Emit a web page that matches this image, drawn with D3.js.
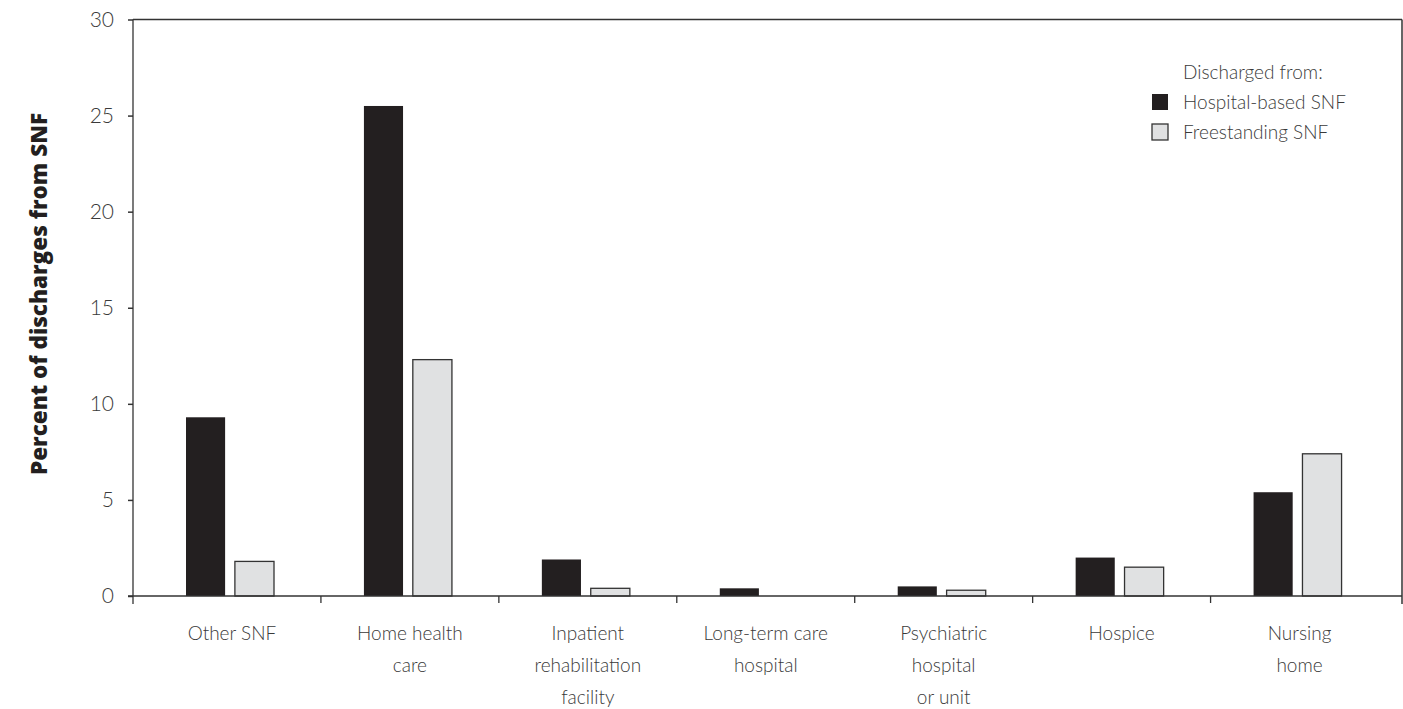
<!DOCTYPE html>
<html>
<head>
<meta charset="utf-8">
<script src="https://cdn.jsdelivr.net/npm/d3@7"></script>
<style>
  body { margin: 0; background: #fff; }
  svg text { font-family: Lato, "Open Sans", sans-serif; }
</style>
</head>
<body>
<svg id="chart" width="1403" height="709"></svg>
<script>
let categories = [
  ['Other SNF'],
  ['Home health', 'care'],
  ['Inpatient', 'rehabilitation', 'facility'],
  ['Long-term care', 'hospital'],
  ['Psychiatric', 'hospital', 'or unit'],
  ['Hospice'],
  ['Nursing', 'home']
];
let series = ['Hospital-based SNF', 'Freestanding SNF'];
let hospital_based = [9.3, 25.5, 1.9, 0.4, 0.5, 2.0, 5.4];
let freestanding = [1.8, 12.3, 0.4, 0, 0.3, 1.5, 7.4];
let y_ticks = [0, 5, 10, 15, 20, 25, 30];

let fills = ['#231f20', '#e0e1e2'];
let strokes = ['none', '#333'];
let axis_color = '#333';
let text_color = '#3a3a3a';

let frame = {left: 133, right: 1402, top: 19.5, bottom: 596};
let cat_keys = categories.map((d, i) => i);

let svg = d3.select('#chart');

let x = d3.scaleBand()
  .domain(cat_keys)
  .range([143, 1388.5]);

let x_inner = d3.scaleBand()
  .domain(series)
  .range([43, 131])
  .paddingInner(0.2);

let y = d3.scaleLinear()
  .domain([0, 30])
  .range([frame.bottom, frame.top]);

let rows = cat_keys.map(i => ({cat: i, vals: [hospital_based[i], freestanding[i]]}));

// bars
let groups = svg.selectAll('.grp')
  .data(rows)
  .enter().append('g')
  .attr('class', 'grp')
  .attr('transform', d => `translate(${x(d.cat)},0)`);

groups.selectAll('rect')
  .data(d => d.vals.map((v, k) => ({v: v, k: k})).filter(e => e.v > 0))
  .enter().append('rect')
  .attr('x', d => x_inner(series[d.k]))
  .attr('width', x_inner.bandwidth())
  .attr('y', d => y(d.v))
  .attr('height', d => y(0) - y(d.v))
  .attr('fill', d => fills[d.k])
  .attr('stroke', d => strokes[d.k])
  .attr('stroke-width', 1.3);

// frame lines: top and right
svg.append('line')
  .attr('x1', frame.left).attr('x2', frame.right)
  .attr('y1', frame.top).attr('y2', frame.top)
  .attr('stroke', axis_color).attr('stroke-width', 1.3);
svg.append('line')
  .attr('x1', frame.right).attr('x2', frame.right)
  .attr('y1', frame.top).attr('y2', frame.bottom + 8)
  .attr('stroke', axis_color).attr('stroke-width', 1.5);

// y axis
let y_axis = d3.axisLeft(y)
  .tickValues(y_ticks)
  .tickSize(5)
  .tickPadding(14);

let gy = svg.append('g')
  .attr('transform', `translate(${frame.left},0)`)
  .call(y_axis);
gy.select('.domain').remove();
gy.selectAll('.tick line').attr('stroke', axis_color).attr('stroke-width', 1.5);
gy.selectAll('.tick text')
  .style('font-size', '21px')
  .style('font-weight', 300)
  .attr('fill', text_color);

svg.append('line')
  .attr('x1', frame.left).attr('x2', frame.left)
  .attr('y1', frame.top).attr('y2', frame.bottom + 8)
  .attr('stroke', axis_color).attr('stroke-width', 1.3);

// x axis line and ticks between categories
svg.append('line')
  .attr('x1', frame.left - 5).attr('x2', frame.right)
  .attr('y1', frame.bottom).attr('y2', frame.bottom)
  .attr('stroke', axis_color).attr('stroke-width', 1.3);

svg.selectAll('.x-tick')
  .data(cat_keys.slice(1))
  .enter().append('line')
  .attr('class', 'x-tick')
  .attr('x1', d => x(d)).attr('x2', d => x(d))
  .attr('y1', frame.bottom).attr('y2', frame.bottom + 7)
  .attr('stroke', axis_color).attr('stroke-width', 1.3);

// category labels
let labels = svg.selectAll('.cat-label')
  .data(rows)
  .enter().append('text')
  .attr('class', 'cat-label')
  .attr('text-anchor', 'middle')
  .attr('fill', text_color)
  .style('font-size', '19px')
  .style('font-weight', 300);

labels.selectAll('tspan')
  .data(d => categories[d.cat].map(t => ({t: t, c: d.cat})))
  .enter().append('tspan')
  .attr('x', d => x(d.c) + x.bandwidth() / 2)
  .attr('y', (d, i) => 640 + i * 32)
  .text(d => d.t);

// y label
svg.append('text')
  .attr('transform', 'translate(47,294) rotate(-90)')
  .attr('text-anchor', 'middle')
  .attr('fill', '#231f20')
  .style('font-family', '"Open Sans", sans-serif')
  .style('font-size', '22.5px')
  .style('font-weight', 800)
  .text('Percent of discharges from SNF');

// legend
let legend = svg.append('g').attr('transform', 'translate(1152,0)');
legend.append('text')
  .attr('x', 31).attr('y', 79)
  .attr('fill', text_color)
  .style('font-size', '19px')
  .style('font-weight', 300)
  .text('Discharged from:');

let items = legend.selectAll('.leg')
  .data(series)
  .enter().append('g')
  .attr('class', 'leg')
  .attr('transform', (d, i) => `translate(0,${94 + i * 30})`);
items.append('rect')
  .attr('width', 16).attr('height', 16)
  .attr('fill', (d, i) => fills[i])
  .attr('stroke', (d, i) => strokes[i])
  .attr('stroke-width', 1.3);
items.append('text')
  .attr('x', 31).attr('y', 15)
  .attr('fill', text_color)
  .style('font-size', '19px')
  .style('font-weight', 300)
  .text(d => d);
</script>
</body>
</html>
